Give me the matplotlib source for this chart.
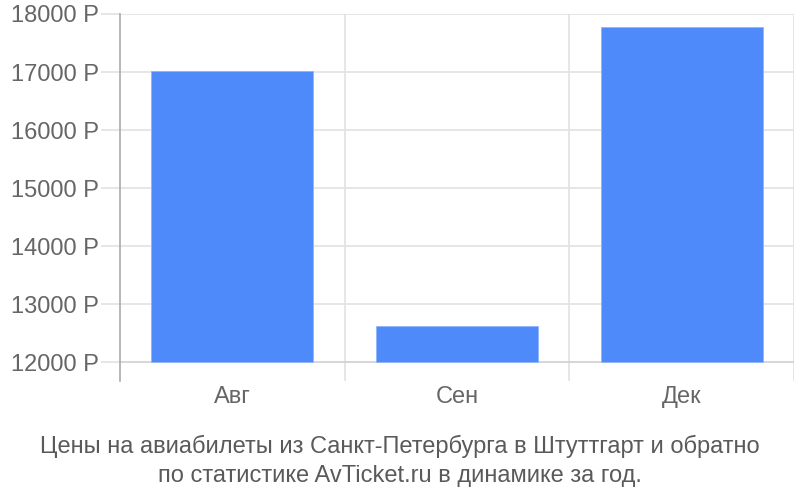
import matplotlib
matplotlib.use('Agg')
import matplotlib.pyplot as plt

# данные
months = ['Авг', 'Сен', 'Дек']
prices = [17010, 12615, 17783]
y_ticks = [12000, 13000, 14000, 15000, 16000, 17000, 18000]
caption = ('Цены на авиабилеты из Санкт-Петербурга в Штуттгарт и обратно\n'
           'по статистике AvTicket.ru в динамике за год.')

plt.rcParams['font.family'] = ['Liberation Sans', 'DejaVu Sans']

fig = plt.figure(figsize=(8, 5), dpi=100)
ax = fig.add_axes([0.15, 0.2386, 0.8425, 0.7334])

base = 12000
pos = [i + 0.5 for i in range(len(months))]
ax.bar(pos, [p - base for p in prices], bottom=base, width=0.72,
       color='#4e8af9', edgecolor='#8fb5fb', linewidth=0.6, zorder=3)

ax.set_xlim(0, len(months))
ax.set_ylim(11680, 18000)

# сетка
ax.set_yticks(y_ticks)
ax.set_yticklabels([f'{t} Р' for t in y_ticks])
ax.set_xticks(pos)
ax.set_xticklabels(months)
for t in y_ticks[1:]:
    ax.axhline(t, color='#e2e2e2', linewidth=1.2, zorder=1)
ax.axhline(y_ticks[0], color='#cfcfcf', linewidth=1.2, zorder=2)
for i in range(1, len(months) + 1):
    ax.axvline(i, color='#e2e2e2', linewidth=1.2, zorder=1)

for s in ['top', 'right', 'bottom']:
    ax.spines[s].set_visible(False)
ax.spines['left'].set_color('#aaaaaa')
ax.spines['left'].set_linewidth(1.2)

ax.tick_params(axis='y', length=14, color='#e2e2e2', width=1.2,
               labelsize=17, labelcolor='#666666', pad=1)
ax.tick_params(axis='x', length=0, labelsize=17, labelcolor='#666666', pad=4)

fig.text(0.5, 0.078, caption, ha='center', va='center', fontsize=17,
         color='#5a5a5a', linespacing=1.38)

fig.savefig('out.png', dpi=100)
